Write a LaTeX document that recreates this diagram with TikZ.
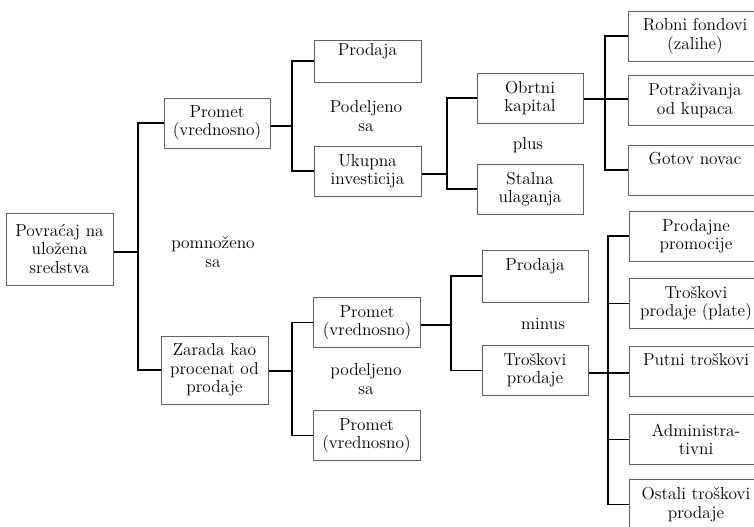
\documentclass[tikz,border=0pt]{standalone}
\begin{document}
\begin{tikzpicture}[x=0.75pt,y=-0.75pt,
  font=\fontsize{13}{13.8}\selectfont,
  box/.style={draw=black!62,line width=0.75pt,rectangle,align=center,inner sep=0pt,
    minimum width=#1*0.75pt},
  box/.default=107,
  conn/.style={draw=black,line width=1.2pt},
  lbl/.style={align=center,inner sep=0pt}]
\useasboundingbox (0,0) rectangle (754,526);

% first level
\node[box,minimum height=54pt] (root) at (59.5,249) {Povraćaj na\\uložena\\sredstva};
\node[box=106,minimum height=37.5pt] (promA) at (217,123) {Promet\\(vrednosno)};
\node[box,minimum height=51pt] (zarada) at (214.5,370) {Zarada kao\\procenat od\\prodaje};
\node[lbl] (pomn) at (213,252) {pomnoženo\\sa};

% turnover branch
\node[box,minimum height=31.5pt] (prod1) at (367.5,61) {Prodaja\\\strut};
\node[box,minimum height=37.5pt] (ukupna) at (367.5,171) {Ukupna\\investicija};
\node[lbl] (podA) at (366,116) {Podeljeno\\sa};

\node[box=106,minimum height=37.5pt] (obrtni) at (530,98) {Obrtni\\kapital};
\node[box=106,minimum height=37.5pt] (stalna) at (530,189) {Stalna\\ulaganja};
\node[lbl] (plus) at (528,145) {plus};

\node[box=134,minimum height=37.5pt] (robni) at (695,36) {Robni fondovi\\(zalihe)};
\node[box=134,minimum height=38pt] (potr) at (695,100.5) {Potraživanja\\od kupaca};
\node[box=134,minimum height=37.5pt] (gotov) at (695,170) {Gotov novac\\\strut};

% profit branch
\node[box,minimum height=38pt] (promB) at (367,322.5) {Promet\\(vrednosno)};
\node[box,minimum height=38pt] (promC) at (366.5,435.5) {Promet\\(vrednosno)};
\node[lbl] (podB) at (366,379) {podeljeno\\sa};

\node[box=106,minimum height=39pt] (prod2) at (535,276) {Prodaja\\\strut};
\node[box=106,minimum height=38pt] (trosk) at (535,370.5) {Troškovi\\prodaje};
\node[lbl] (minus) at (543,324) {minus};

\node[box=134,minimum height=37.5pt] (promo) at (696,236) {Prodajne\\promocije};
\node[box=134,minimum height=38pt] (plate) at (696,303.5) {Troškovi\\prodaje (plate)};
\node[box=134,minimum height=38pt] (putni) at (696,371.5) {Putni troškovi\\\strut};
\node[box=134,minimum height=38pt] (admin) at (696,439.5) {Administra-\\tivni};
\node[box=134,minimum height=38pt] (ostali) at (696,504.5) {Ostali troškovi\\prodaje};

% bus points of the connectors
\coordinate (b1) at (138,252);
\coordinate (b2) at (292,126);
\coordinate (b3) at (447,174);
\coordinate (b4) at (605,99);
\coordinate (b5) at (292,371);
\coordinate (b6) at (451,325);
\coordinate (b7) at (608,373);

\draw[conn] (root.east |- b1) -- (b1);
\draw[conn] (promA.west) -| (b1) |- (zarada.west);

\draw[conn] (promA.east |- b2) -- (b2);
\draw[conn] (prod1.west) -| (b2) |- (ukupna.west);

\draw[conn] (ukupna.east |- b3) -- (b3);
\draw[conn] (obrtni.west) -| (b3) |- (stalna.west);

\draw[conn] (obrtni.east |- b4) -- (b4) -- (b4 -| potr.west);
\draw[conn] (robni.west) -| (b4) |- (gotov.west);

\draw[conn] (zarada.east |- b5) -- (b5);
\draw[conn] (promB.west) -| (b5) |- (promC.west);

\draw[conn] (promB.east |- b6) -- (b6);
\draw[conn] (prod2.west) -| (b6) |- (trosk.west);

\draw[conn] (trosk.east |- b7) -- (b7) -- (b7 -| putni.west);
\draw[conn] (promo.west) -| (b7) |- (ostali.west);
\draw[conn] (plate.west) -- (plate.west -| b7);
\draw[conn] (admin.west) -- (admin.west -| b7);
\end{tikzpicture}
\end{document}
